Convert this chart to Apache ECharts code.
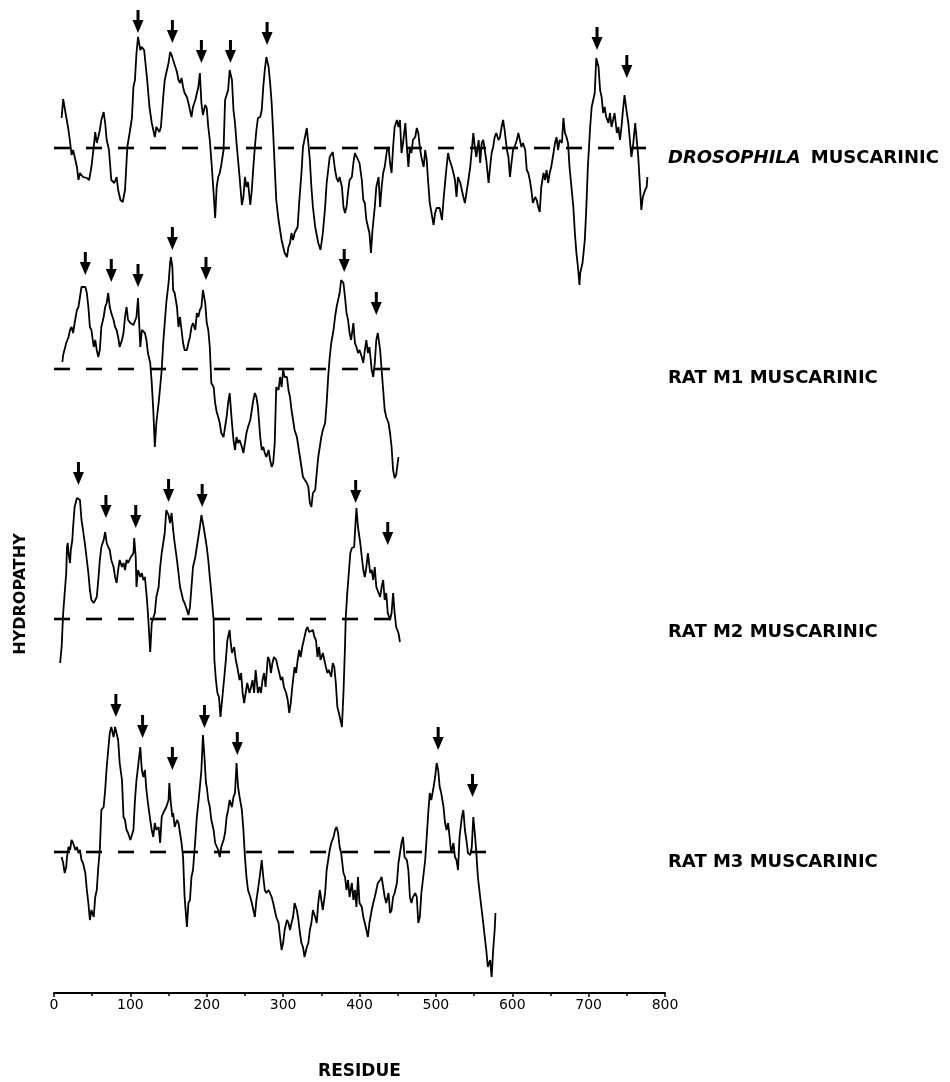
<!DOCTYPE html>
<html><head><meta charset="utf-8">
<script src="https://cdn.jsdelivr.net/npm/echarts@6/dist/echarts.min.js"></script>
<style>html,body{margin:0;padding:0;background:#fff}#chart{width:950px;height:1082px}</style>
</head><body><div id="chart"></div>
<script>
// ---- data (residue, hydropathy relative to the dashed zero line) ----
const xTicks = [0, 100, 200, 300, 400, 500, 600, 700, 800];
const traceNames = ['DROSOPHILA MUSCARINIC', 'RAT M1 MUSCARINIC', 'RAT M2 MUSCARINIC', 'RAT M3 MUSCARINIC'];
const zeroLineEnd = [777, 442, 440, 568];

const drosophila = [[10,30],[12,49],[16,31],[19,18],[22,0],[23,-7],[25,-2],[28,-12],[30,-19],[32,-32],[34,-25],[38,-29],[43,-30],[46,-32],[49,-19],[52,1],[54,16],[56,5],[58,11],[60,18],[62,28],[65,36],[67,25],[69,8],[72,-2],[75,-32],[79,-35],[82,-29],[84,-42],[87,-52],[90,-54],[93,-42],[96,1],[99,15],[102,30],[104,61],[106,68],[108,95],[110,111],[113,98],[115,101],[118,98],[120,98],[122,68],[125,41],[128,25],[130,18],[132,11],[134,21],[138,16],[140,21],[143,51],[145,68],[147,75],[150,85],[152,96],[154,93],[156,88],[158,90],[161,76],[163,68],[165,65],[167,70],[169,61],[171,55],[174,51],[176,45],[178,38],[180,31],[182,41],[185,48],[187,46],[189,61],[191,75],[193,45],[195,33],[198,43],[200,40],[202,21],[204,8],[206,-12],[209,-45],[211,-70],[213,-39],[215,-29],[217,-25],[219,-17],[222,-2],[224,48],[226,53],[228,58],[230,78],[233,68],[235,38],[237,25],[239,5],[241,-12],[243,-29],[246,-57],[248,-49],[250,-29],[252,-39],[254,-34],[257,-57],[259,-42],[261,-19],[263,1],[265,18],[267,30],[270,31],[272,38],[274,61],[276,78],[278,91],[281,81],[283,65],[285,45],[287,15],[289,-19],[291,-52],[294,-72],[298,-92],[302,-105],[305,-109],[307,-99],[309,-95],[311,-85],[313,-92],[315,-85],[319,-79],[321,-55],[324,-25],[326,1],[331,20],[333,5],[335,-12],[337,-39],[339,-59],[342,-79],[346,-95],[349,-102],[352,-85],[355,-59],[357,-35],[359,-22],[361,-9],[365,-4],[368,-22],[370,-30],[372,-34],[374,-29],[377,-39],[379,-59],[381,-65],[383,-59],[385,-44],[387,-32],[390,-29],[392,-15],[394,-5],[396,-7],[400,-15],[403,-32],[405,-52],[407,-55],[409,-72],[413,-85],[415,-105],[417,-82],[420,-59],[422,-39],[425,-29],[427,-59],[429,-39],[431,-25],[433,-19],[436,-2],[438,1],[440,-15],[442,-25],[444,1],[446,21],[449,28],[451,21],[453,28],[455,-5],[457,5],[460,25],[462,1],[464,-19],[466,1],[468,-5],[470,8],[473,11],[475,20],[477,15],[479,1],[481,-9],[484,-19],[486,-2],[488,-12],[490,-35],[492,-55],[494,-55],[497,-77],[499,-65],[501,-60],[505,-60],[508,-72],[510,-52],[512,-35],[514,-19],[516,-5],[518,-12],[521,-19],[523,-25],[525,-32],[527,-49],[529,-29],[532,-35],[534,-42],[536,-49],[538,-55],[540,-45],[542,-35],[545,-19],[547,-2],[549,15],[551,1],[553,-9],[556,8],[558,-15],[560,5],[562,8],[564,-2],[566,-12],[569,-35],[571,-19],[573,-5],[575,1],[577,11],[579,15],[582,8],[584,11],[586,21],[588,28],[590,18],[593,-2],[595,-9],[597,-29],[599,-15],[601,-2],[603,1],[606,8],[608,15],[610,8],[612,1],[614,5],[617,-2],[619,-22],[621,-25],[623,-32],[625,-42],[627,-55],[630,-49],[632,-52],[634,-59],[636,-64],[638,-39],[641,-25],[643,-32],[645,-22],[647,-35],[649,-25],[651,-19],[654,-5],[656,5],[658,11],[660,-2],[662,8],[665,5],[667,30],[669,15],[671,11],[673,5],[675,-19],[680,-59],[682,-85],[684,-105],[686,-119],[688,-137],[689,-125],[692,-115],[695,-92],[697,-59],[699,-19],[702,21],[704,41],[706,48],[708,55],[710,90],[713,81],[715,58],[717,51],[719,35],[721,41],[723,31],[726,25],[728,35],[730,21],[732,28],[734,35],[737,15],[739,21],[741,8],[743,21],[745,38],[747,53],[750,35],[752,25],[754,8],[756,-9],[758,1],[761,25],[763,8],[765,-9],[767,-35],[769,-62],[771,-49],[774,-42],[776,-39],[777,-29]];

const ratM1 = [[11,7],[12,14],[14,16],[16,26],[19,32],[21,39],[23,42],[25,36],[27,46],[30,59],[32,62],[34,72],[36,82],[38,84],[41,82],[43,76],[45,62],[47,42],[49,39],[52,22],[54,29],[56,19],[58,12],[60,19],[62,42],[65,52],[67,62],[69,66],[71,76],[73,62],[75,56],[78,49],[80,42],[82,39],[84,32],[86,22],[89,29],[91,36],[93,52],[95,62],[97,49],[100,46],[102,47],[104,44],[106,46],[108,52],[110,71],[113,22],[115,39],[117,39],[119,36],[121,29],[123,16],[126,6],[128,-14],[130,-41],[132,-78],[134,-54],[137,-34],[139,-18],[141,-1],[143,26],[145,46],[147,66],[150,86],[152,106],[153,112],[155,102],[156,79],[158,76],[161,62],[163,42],[165,52],[167,39],[169,26],[171,19],[174,19],[176,26],[178,32],[180,42],[182,46],[185,39],[187,56],[189,52],[191,59],[193,62],[195,79],[198,66],[200,46],[202,39],[204,22],[206,-14],[209,-18],[211,-34],[213,-43],[215,-48],[217,-54],[219,-64],[222,-68],[224,-58],[226,-48],[228,-34],[230,-24],[233,-54],[235,-71],[237,-81],[239,-68],[241,-74],[243,-71],[246,-78],[248,-84],[250,-74],[252,-64],[254,-58],[257,-51],[259,-41],[261,-31],[263,-24],[265,-28],[267,-38],[270,-68],[272,-81],[274,-78],[276,-84],[278,-88],[281,-81],[283,-91],[285,-98],[287,-94],[289,-74],[291,-18],[294,-21],[296,-8],[298,-18],[300,-1],[302,-8],[305,-8],[307,-21],[309,-28],[311,-41],[313,-51],[315,-61],[318,-68],[320,-78],[322,-88],[324,-98],[326,-108],[328,-108],[331,-114],[333,-118],[335,-134],[337,-138],[339,-124],[342,-121],[344,-104],[346,-88],[348,-78],[350,-68],[352,-61],[355,-54],[357,-34],[359,-8],[361,12],[363,26],[366,39],[368,52],[370,62],[372,69],[374,76],[376,89],[379,86],[381,72],[383,56],[385,49],[387,36],[389,29],[392,46],[394,26],[396,22],[398,16],[400,19],[403,12],[405,6],[407,19],[409,29],[411,16],[413,22],[416,-1],[418,-8],[420,6],[422,29],[424,36],[427,19],[429,-1],[431,-21],[433,-41],[435,-48],[438,-54],[440,-64],[442,-78],[444,-101],[446,-109],[448,-106],[451,-88]];

const ratM2 = [[8,-44],[10,-28],[12,6],[14,26],[16,46],[17,72],[18,76],[19,66],[21,56],[22,69],[24,79],[25,92],[27,112],[30,121],[32,122],[34,119],[36,99],[38,89],[41,72],[43,59],[45,46],[47,29],[49,19],[52,16],[54,14],[56,22],[58,39],[60,59],[62,72],[65,79],[67,87],[69,76],[71,72],[73,69],[75,59],[78,52],[80,42],[82,36],[84,49],[86,59],[89,52],[91,56],[93,49],[95,59],[97,56],[100,61],[102,62],[104,66],[105,81],[107,62],[108,32],[110,49],[113,42],[115,46],[117,39],[119,42],[121,26],[123,6],[126,-33],[128,-4],[130,-3],[132,6],[134,22],[137,32],[139,52],[141,66],[143,76],[145,86],[147,109],[150,104],[152,96],[154,106],[156,89],[158,76],[161,59],[163,46],[165,32],[167,26],[169,19],[171,16],[174,9],[176,4],[178,12],[180,32],[182,52],[185,62],[187,72],[189,82],[191,92],[193,104],[195,96],[198,82],[200,72],[202,59],[204,42],[206,26],[209,-1],[210,-41],[212,-61],[214,-74],[216,-78],[218,-98],[221,-74],[223,-58],[225,-41],[227,-21],[230,-11],[231,-21],[233,-34],[236,-28],[238,-41],[240,-48],[243,-61],[245,-54],[247,-74],[249,-84],[251,-74],[253,-64],[256,-74],[258,-68],[260,-61],[262,-74],[264,-51],[267,-74],[269,-68],[271,-74],[273,-61],[275,-54],[277,-68],[280,-38],[282,-41],[284,-54],[286,-44],[288,-38],[291,-41],[293,-48],[295,-54],[297,-61],[299,-58],[301,-68],[304,-74],[306,-81],[308,-94],[310,-84],[312,-68],[315,-48],[317,-54],[319,-41],[321,-31],[323,-38],[325,-28],[328,-18],[330,-11],[332,-8],[334,-13],[336,-14],[339,-11],[341,-18],[343,-21],[345,-38],[347,-28],[349,-41],[352,-34],[354,-41],[356,-48],[358,-54],[360,-51],[363,-58],[365,-44],[367,-48],[369,-64],[371,-88],[373,-94],[376,-104],[377,-108],[379,-74],[381,-28],[382,2],[384,26],[386,46],[388,66],[390,71],[393,72],[395,99],[396,111],[398,92],[401,76],[403,62],[405,49],[407,42],[409,52],[411,66],[414,46],[416,49],[418,39],[420,52],[422,32],[425,26],[427,22],[429,32],[431,39],[433,19],[435,26],[437,6],[440,-1],[442,6],[444,26],[446,6],[448,-8],[451,-14],[453,-23]];

const ratM3 = [[10,-5],[12,-11],[14,-21],[16,-15],[17,-5],[19,5],[21,2],[23,12],[25,9],[28,2],[30,5],[32,-1],[34,2],[36,-8],[38,-11],[41,-21],[43,-38],[45,-51],[47,-68],[49,-58],[52,-65],[54,-45],[56,-38],[58,-15],[60,2],[62,42],[65,45],[67,62],[69,85],[71,102],[73,119],[75,125],[78,115],[80,125],[82,127],[84,112],[86,89],[89,72],[91,35],[93,32],[95,22],[97,19],[100,12],[102,10],[104,22],[106,52],[108,72],[110,85],[113,105],[115,82],[117,75],[119,82],[121,62],[123,49],[126,32],[128,22],[130,15],[132,29],[134,22],[137,25],[139,9],[141,35],[143,39],[145,39],[147,45],[150,52],[151,69],[153,49],[155,35],[156,39],[158,25],[161,32],[163,29],[165,19],[167,9],[169,-5],[171,-45],[174,-75],[176,-51],[178,-48],[180,-25],[182,-18],[185,12],[187,35],[189,49],[191,65],[193,82],[195,117],[197,95],[199,69],[200,65],[202,52],[204,45],[206,32],[209,22],[211,9],[213,7],[215,2],[217,-5],[219,5],[222,12],[224,19],[226,35],[228,42],[230,52],[233,45],[235,55],[237,59],[239,89],[241,65],[243,55],[246,42],[248,22],[250,-5],[252,-25],[254,-38],[257,-45],[259,-51],[261,-58],[263,-65],[265,-48],[267,-38],[270,-21],[272,-8],[274,-25],[276,-38],[278,-41],[281,-38],[283,-38],[285,-45],[287,-51],[289,-58],[291,-65],[294,-71],[296,-85],[298,-98],[300,-91],[302,-78],[305,-68],[307,-71],[309,-78],[311,-71],[313,-65],[315,-51],[318,-58],[320,-68],[322,-81],[324,-91],[326,-95],[328,-105],[331,-95],[333,-91],[335,-78],[337,-71],[339,-58],[342,-65],[344,-71],[346,-51],[348,-38],[350,-48],[352,-58],[355,-41],[357,-18],[359,-8],[361,2],[363,9],[366,15],[368,22],[370,25],[372,19],[374,5],[376,-1],[379,-21],[381,-25],[383,-38],[385,-28],[387,-45],[390,-31],[392,-48],[394,-38],[396,-55],[398,-25],[400,-51],[403,-55],[405,-65],[407,-71],[409,-78],[411,-85],[413,-71],[416,-58],[418,-51],[420,-45],[422,-38],[424,-31],[427,-28],[429,-25],[431,-35],[433,-45],[435,-51],[438,-41],[440,-61],[442,-58],[444,-45],[446,-41],[449,-31],[451,-11],[453,-1],[455,9],[457,15],[459,-5],[462,-8],[464,-18],[466,-45],[468,-51],[470,-45],[473,-41],[475,-45],[477,-71],[479,-65],[481,-41],[483,-28],[486,-8],[488,15],[490,39],[492,59],[494,52],[497,65],[499,75],[501,89],[503,82],[505,65],[507,59],[510,45],[512,29],[514,22],[516,29],[518,15],[520,-1],[523,9],[525,-5],[527,-8],[529,-18],[531,15],[534,35],[536,42],[538,22],[540,12],[542,-1],[545,-3],[547,5],[549,35],[551,19],[553,-1],[555,-25],[558,-45],[560,-58],[562,-71],[564,-85],[566,-98],[568,-115],[571,-108],[573,-125],[575,-98],[577,-78],[578,-61]];

// arrow tips (residue, hydropathy at the arrow point)
const drosArrows = [[110,115],[155,105],[193,85],[231,85],[279,103],[711,98],[750,70]];
const m1Arrows = [[41,94],[75,87],[110,82],[155,119],[199,89],[380,97],[422,54]];
const m2Arrows = [[32,134],[68,101],[107,91],[150,117],[194,112],[395,116],[437,74]];
const m3Arrows = [[81,135],[116,114],[155,82],[197,124],[240,97],[503,102],[548,55]];

const traces = [drosophila, ratM1, ratM2, ratM3];
const arrows = [drosArrows, m1Arrows, m2Arrows, m3Arrows];

// ---- layout ----
const gridBoxes = [{top: 0, height: 300}, {top: 200, height: 320}, {top: 450, height: 300}, {top: 680, height: 313}];
const yRanges = [[-152, 148], [-151, 169], [-131, 169], [-141, 172]];
const labelY = [158, 378, 632, 862];
const arrowPath = 'path://M4,0L7,0L7,10L11,10L5.5,23L0,10L4,10Z';
const FONT = '"DejaVu Sans", "Liberation Sans", sans-serif';

const grid = [], xAxis = [], yAxis = [], series = [];
for (let i = 0; i < 4; i++) {
  grid.push({left: 54, width: 611, top: gridBoxes[i].top, height: gridBoxes[i].height,
             containLabel: false, outerBoundsMode: 'none'});
  const last = i === 3;
  xAxis.push({
    gridIndex: i, type: 'value', min: xTicks[0], max: xTicks[xTicks.length - 1], interval: 100,
    show: last, position: 'bottom',
    axisLine: {show: true, onZero: false, lineStyle: {color: '#000', width: 2}},
    axisTick: {show: true, length: 4, lineStyle: {color: '#000', width: 1.5}},
    minorTick: {show: true, splitNumber: 2, length: 3, lineStyle: {color: '#000', width: 1.5}},
    axisLabel: {color: '#000', fontSize: 14, fontFamily: FONT, margin: 5},
    splitLine: {show: false},
    name: last ? 'RESIDUE' : '', nameLocation: 'middle', nameGap: 70,
    nameTextStyle: {color: '#000', fontSize: 17, fontWeight: 'bold', fontFamily: FONT}
  });
  yAxis.push({gridIndex: i, type: 'value', min: yRanges[i][0], max: yRanges[i][1], show: false, splitLine: {show: false}});
  series.push({
    name: traceNames[i], type: 'line', xAxisIndex: i, yAxisIndex: i, data: traces[i],
    symbol: 'none', clip: false, z: 3,
    lineStyle: {color: '#000', width: 1.8}
  });
  series.push({
    type: 'line', xAxisIndex: i, yAxisIndex: i, data: [[0, 0], [zeroLineEnd[i], 0]],
    symbol: 'none', clip: false, z: 2,
    lineStyle: {color: '#000', width: 2.6, type: [16, 16]}
  });
  series.push({
    type: 'scatter', xAxisIndex: i, yAxisIndex: i, data: arrows[i],
    symbol: arrowPath, symbolSize: [11, 23], symbolOffset: [0, '-50%'], clip: false, z: 4,
    itemStyle: {color: '#000', opacity: 1}
  });
}

const graphic = [
  {type: 'text', x: 668, y: labelY[0], style: {
    text: '{a|DROSOPHILA}   {b|MUSCARINIC}', verticalAlign: 'middle', align: 'left', fill: '#000',
    rich: {a: {fontStyle: 'italic', fontWeight: 'bold', fontSize: 18, fontFamily: FONT, fill: '#000'},
           b: {fontWeight: 'bold', fontSize: 18, fontFamily: FONT, fill: '#000'}}
  }},
  {type: 'text', x: 21, y: 594, rotation: Math.PI / 2, style: {
    text: 'HYDROPATHY', align: 'center', verticalAlign: 'middle', fill: '#000',
    font: 'bold 16px ' + FONT
  }}
];
for (let i = 1; i < 4; i++) {
  graphic.push({type: 'text', x: 668, y: labelY[i], style: {
    text: traceNames[i], align: 'left', verticalAlign: 'middle', fill: '#000', font: 'bold 18px ' + FONT
  }});
}

const chart = echarts.init(document.getElementById('chart'), null, {renderer: 'canvas'});
chart.setOption({animation: false, backgroundColor: '#fff', grid, xAxis, yAxis, series, graphic});
</script></body></html>
